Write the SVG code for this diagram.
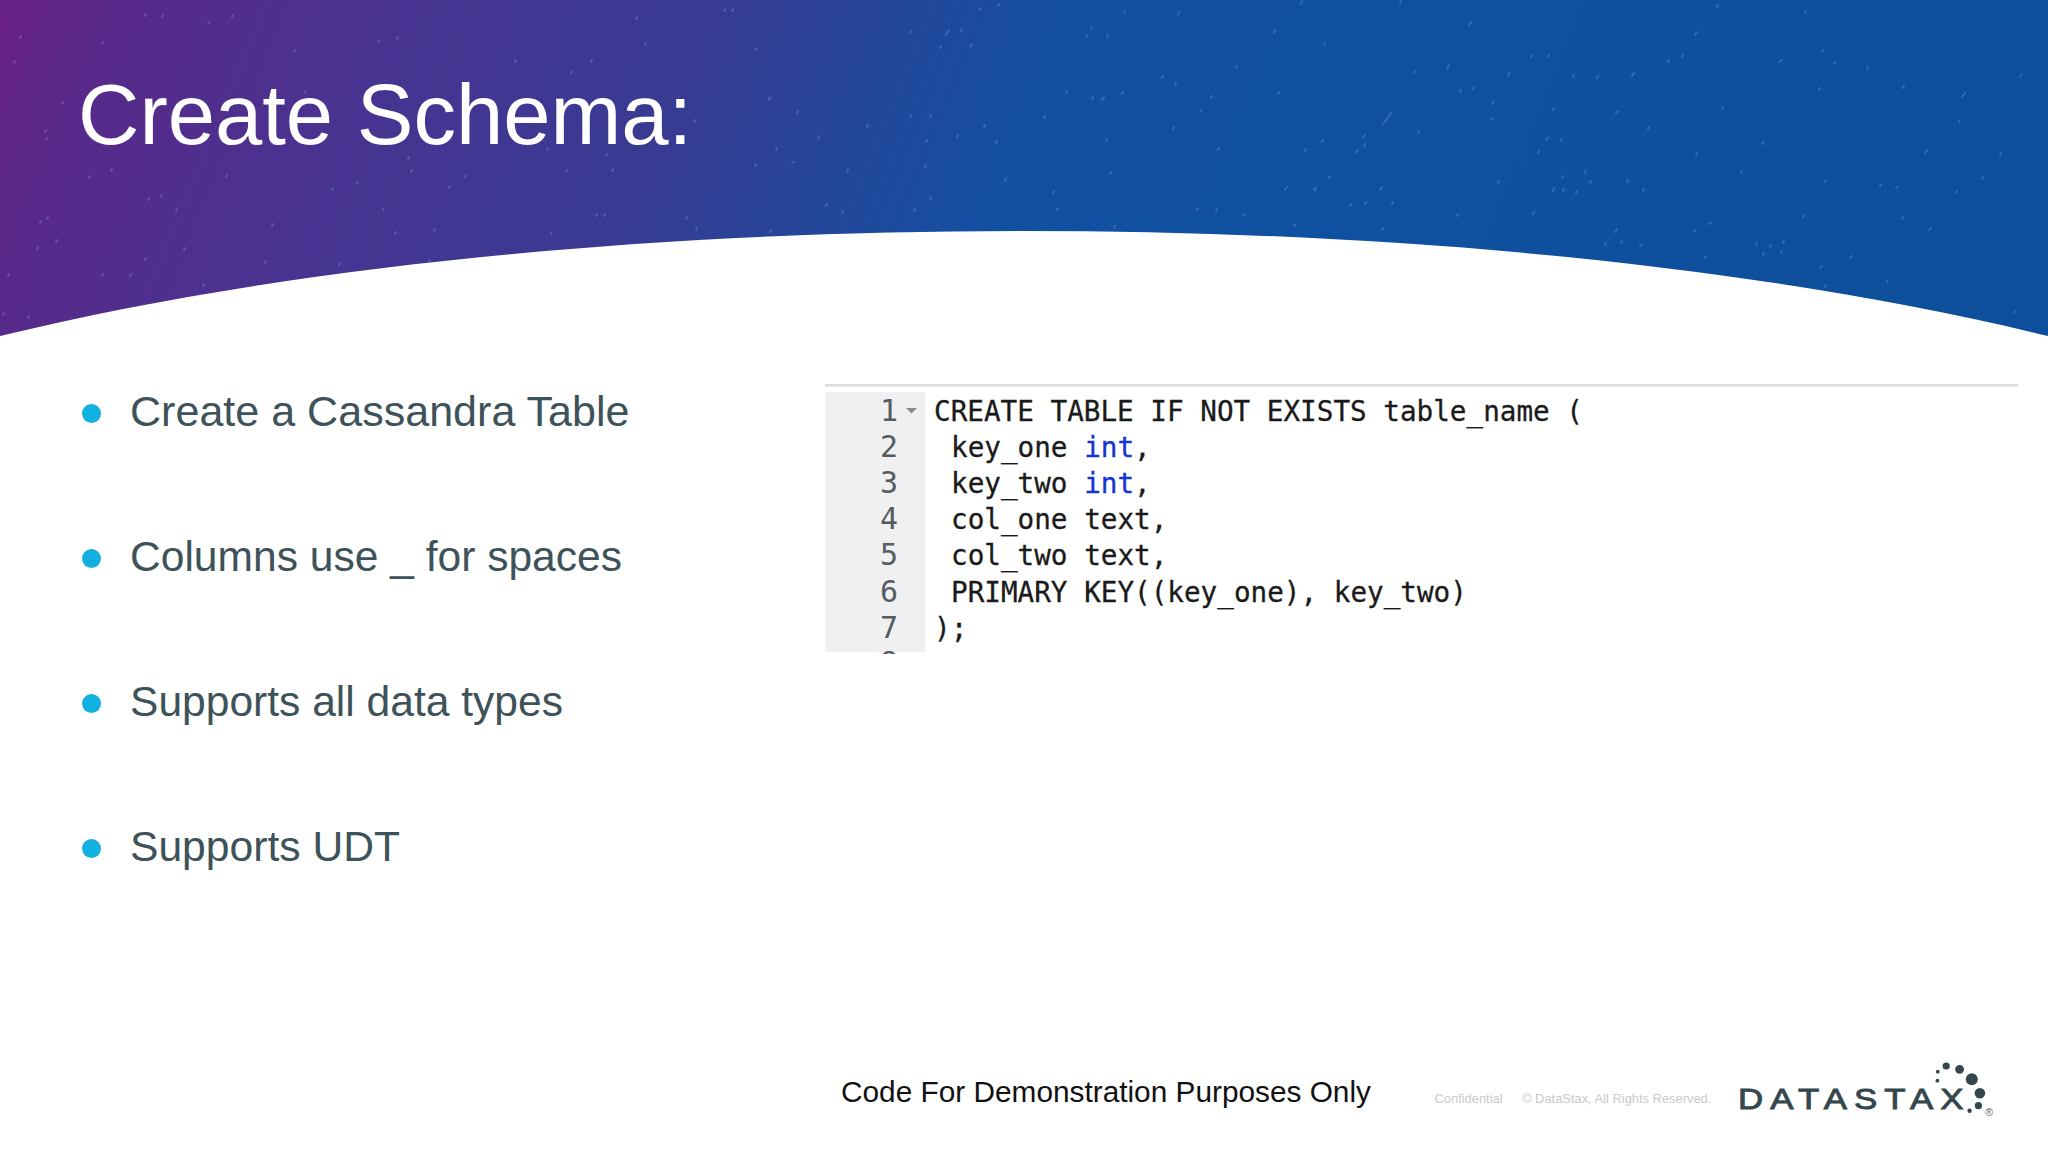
<svg xmlns="http://www.w3.org/2000/svg" width="2048" height="1152" viewBox="0 0 2048 1152">
<style>
.sans{font-family:"Liberation Sans",Arial,sans-serif}
.bullet{font-size:43px;fill:#3e5259}
.dot{fill:#12b0e0}
.code{font-family:"DejaVu Sans Mono","Liberation Mono",monospace;font-size:27.65px;fill:#1a1a1a;stroke:#1a1a1a;stroke-width:.3px}
.num{font-family:"DejaVu Sans Mono","Liberation Mono",monospace;font-size:30px;fill:#555c60;text-anchor:middle}
.kw{fill:#1433d0;stroke:#1433d0}
.legal{font-size:12.9px;fill:#c9c9c9}
.logo{fill:#33474d}
</style>
<defs>
<linearGradient id="sky" gradientUnits="userSpaceOnUse" x1="0" y1="0" x2="1700" y2="700">
<stop offset="0" stop-color="#6a2087"/>
<stop offset="0.06" stop-color="#58298a"/>
<stop offset="0.2" stop-color="#483391"/>
<stop offset="0.36" stop-color="#383b92"/>
<stop offset="0.46" stop-color="#22479a"/>
<stop offset="0.55" stop-color="#1250a2"/>
<stop offset="0.75" stop-color="#0f50a0"/>
<stop offset="1" stop-color="#0e4f9c"/>
</linearGradient>
<clipPath id="gut"><rect x="825" y="392" width="100" height="262"/></clipPath>
</defs>
<rect width="2048" height="1152" fill="#fff"/>
<g id="banner">
<path d="M0 0H2048V336C1760 266 1400 231 1024 231C648 231 288 266 0 336Z" fill="url(#sky)"/>
<path fill="none" stroke="#8fa8e4" stroke-opacity=".3" stroke-width="1.9" stroke-linecap="round" d="M145 16l1-2M162 17l1-2M232 17l1-2M208 24l1-2M20 38l1-2M102 44l1-2M14 63l1-2M378 42l1-2M397 39l1-2M294 52l1-2M45 132l1-2M46 140l1-2M62 104l1-2M305 93l1-2M411 172l1-2M465 177l1-2M408 159l1-2M591 62l1-2M515 62l1-2M571 73l1-2M636 19l1-2M724 11l1-2M732 11l1-2M645 45l1-2M756 50l1-2M769 99l1-2M694 122l1-2M776 150l1-2M755 166l1-2M566 172l1-2M612 171l1-2M547 150l1-2M606 156l1-2M449 188l1-2M357 184l1-2M332 190l1-2M226 177l1-2M111 171l1-2M89 178l1-2M161 197l1-2M148 200l1-2M47 219l1-2M40 223l1-2M272 226l1-2M176 211l1-2M383 210l1-2M434 231l1-2M395 234l1-2M551 234l1-2M596 216l1-2M604 216l1-2M686 219l1-2M696 230l1-2M770 232l1-2M102 276l1-2M130 276l1-2M203 286l1-2M8 276l1-2M339 265l1-2M265 263l1-2M28 318l1-2M3 315l1-2M429 262l1-2M184 250l1-2M145 260l1-2M56 242l1-2M37 249l1-2M910 33l1-2M961 32l1-3M946 35l3-5M940 48l1-2M970 47l2-3M998 6l1-2M980 10l1-2M1124 13l1-2M1178 15l1-3M1274 33l1-3M1301 4l1-3M1091 29l1-2M1086 37l1-2M1107 37l1-2M1236 68l1-2M1162 78l1-2M1175 85l1-2M1122 94l1-2M1102 100l2-3M1092 99l1-2M1066 93l1-2M1211 98l1-2M1278 94l1-2M1200 112l1-2M910 117l1-2M930 117l1-2M867 127l1-2M818 139l1-3M769 100l1-2M797 113l1-2M957 137l1-2M926 142l1-2M984 127l1-2M1044 118l1-2M996 143l1-2M1106 141l1-2M1173 129l1-2M1218 150l1-2M1305 151l1-2M1322 142l1-2M1356 153l2-3M1364 147l1-3M1363 138l2-3M1383 124l9-12M925 168l1-3M847 172l1-3M792 163l2-1M1110 174l1-2M1005 181l1-3M1053 193l1-2M930 200l1-3M914 211l1-2M842 213l1-2M826 206l1-2M1057 210l1-2M1197 210l1-2M1216 211l1-2M1243 216l1-2M1285 190l2-3M1315 190l1-2M1329 178l1-2M1381 189l1-2M1350 206l1-2M1365 204l1-2M1294 226l1-2M1382 230l1-2M1114 228l1-2M1469 25l2-3M1695 35l2-3M1717 7l1-2M1805 13l1-2M1400 3l1-2M1324 45l1-2M1447 68l2-3M1414 73l1-2M1508 76l1-3M1548 57l1-2M1531 57l1-2M1632 76l2-3M1597 78l1-2M1573 77l1-2M1779 62l3-2M1834 64l1-2M1867 69l1-2M1682 57l1-2M1668 62l1-2M1822 52l1-2M2020 77l2-3M1903 88l1-2M1962 97l3-4M1819 90l1-2M1473 89l1-2M1460 92l1-2M1492 104l2-3M1553 110l1-2M1616 113l2-2M1722 109l1-2M1491 120l1-2M1418 133l1-2M1546 140l2-3M1561 141l1-2M1538 153l1-2M1648 129l1-2M1762 144l2-2M1696 155l1-2M1925 153l2-3M1959 122l1-2M2000 155l1-2M1585 173l1-3M1562 178l1-2M1553 191l1-3M1563 191l1-2M1576 193l1-2M1590 183l1-2M1627 182l1-2M1643 191l1-2M1741 173l1-2M1825 182l1-2M1880 186l1-2M1896 188l2-1M1982 179l1-2M1956 193l1-2M1498 183l1-2M1329 178l1-2M1380 190l1-2M1314 190l1-2M1392 204l1-2M1457 216l1-2M1533 214l1-2M1615 232l2-3M1621 243l1-2M1640 246l2-2M1605 245l1-2M1694 232l1-2M1709 224l2-1M1756 245l1-2M1783 243l1-2M1781 253l1-2M1770 247l1-2M1763 255l1-2M1803 217l1-2M1929 230l2-2M1902 219l1-2M1850 258l2-2M1820 268l2-2M1887 282l1-2M1825 287l1-2M2014 313l1-2M1705 258l1-2"/>
</g>
<text id="title" class="sans" x="78" y="144" font-size="85" fill="#fff">Create Schema:</text>
<g id="bullet-1"><circle class="dot" cx="91.5" cy="413.5" r="9.5"/><text class="sans bullet" x="130" y="426" textLength="499.500" lengthAdjust="spacingAndGlyphs">Create a Cassandra Table</text></g>
<g id="bullet-2"><circle class="dot" cx="91.5" cy="558.5" r="9.5"/><text class="sans bullet" x="130" y="571" textLength="492" lengthAdjust="spacingAndGlyphs">Columns use _ for spaces</text></g>
<g id="bullet-3"><circle class="dot" cx="91.5" cy="703.5" r="9.5"/><text class="sans bullet" x="130" y="716" textLength="433" lengthAdjust="spacingAndGlyphs">Supports all data types</text></g>
<g id="bullet-4"><circle class="dot" cx="91.5" cy="848.5" r="9.5"/><text class="sans bullet" x="130" y="861" textLength="270" lengthAdjust="spacingAndGlyphs">Supports UDT</text></g>
<g id="code">
<rect x="825" y="384" width="1193" height="2.5" fill="#dcdcdc"/>
<rect x="825" y="392" width="100" height="260" fill="#f0f0f2"/>
<g clip-path="url(#gut)">
<text class="num" x="889" y="420.5">1</text>
<text class="num" x="889" y="456.5">2</text>
<text class="num" x="889" y="492.5">3</text>
<text class="num" x="889" y="529">4</text>
<text class="num" x="889" y="565">5</text>
<text class="num" x="889" y="601.5">6</text>
<text class="num" x="889" y="637.5">7</text>
<text class="num" x="889" y="673">8</text>
</g>
<path d="M906 408h11l-5.500 5.500z" fill="#8a8a8a"/>
<text class="code" x="934" y="420.500">CREATE TABLE IF NOT EXISTS table_name (</text>
<text class="code" x="951" y="456.500">key_one <tspan class="kw">int</tspan>,</text>
<text class="code" x="951" y="492.500">key_two <tspan class="kw">int</tspan>,</text>
<text class="code" x="951" y="529">col_one text,</text>
<text class="code" x="951" y="565">col_two text,</text>
<text class="code" x="951" y="601.500">PRIMARY KEY((key_one), key_two)</text>
<text class="code" x="934" y="637.500">);</text>
</g>
<text id="notice" class="sans" x="841" y="1102" font-size="29.8" fill="#111">Code For Demonstration Purposes Only</text>
<text id="confidential" class="sans legal" x="1434.5" y="1103">Confidential</text>
<text id="copyright" class="sans legal" x="1522" y="1103">© DataStax, All Rights Reserved.</text>
<g id="logo">
<text class="sans logo" transform="translate(1738 1109) scale(1.2 1)" font-size="29" letter-spacing="5.900" stroke="#33474d" stroke-width=".9">DATASTAX</text>
<circle class="logo" cx="1946.2" cy="1066" r="3.6"/>
<circle class="logo" cx="1959.6" cy="1069.3" r="4.4"/>
<circle class="logo" cx="1971.8" cy="1079.3" r="6"/>
<circle class="logo" cx="1979.9" cy="1093.3" r="5.300"/>
<circle class="logo" cx="1978.4" cy="1105.7" r="3.6"/>
<circle class="logo" cx="1969.6" cy="1110.7" r="2.2"/>
<circle class="logo" cx="1937.8" cy="1071.7" r="1.900"/>
<circle class="logo" cx="1937.4" cy="1080.7" r="1.900"/>
<text class="sans" x="1985" y="1116" font-size="11" fill="#5a6a70">®</text>
</g>
</svg>
